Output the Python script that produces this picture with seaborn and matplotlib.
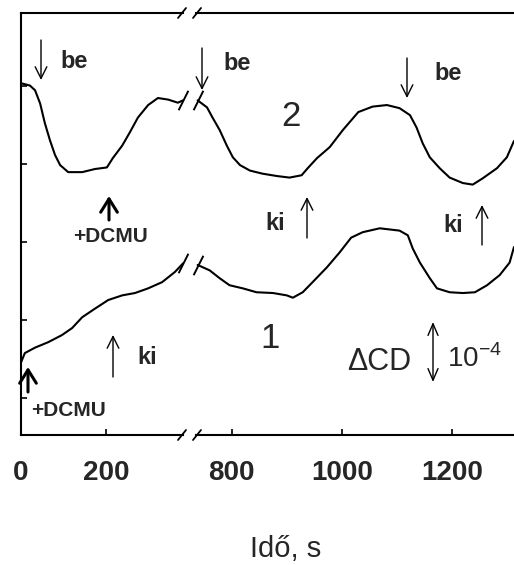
import matplotlib
matplotlib.use("Agg")
import matplotlib.pyplot as plt
import numpy as np
import pandas as pd
import seaborn as sns

# ---------------- data ----------------
# curve 2 (upper trace)
t2_left = [0, 21, 33, 45, 56, 68, 80, 92, 111, 144, 174, 202, 216, 238, 256, 275, 299, 322, 346, 369, 381]
v2_left = [4.04, 4.01, 3.95, 3.78, 3.53, 3.31, 3.12, 2.99, 2.90, 2.90, 2.94, 2.96, 3.08, 3.24, 3.41, 3.60, 3.76,
           3.85, 3.83, 3.79, 3.82]
t2_right = [738, 755, 765, 778, 791, 802, 815, 833, 856, 882, 905, 927, 938, 955, 978, 1002, 1030, 1056, 1082,
            1105, 1124, 1136, 1147, 1160, 1178, 1196, 1220, 1238, 1256, 1282, 1300, 1313]
v2_right = [3.82, 3.73, 3.60, 3.44, 3.24, 3.09, 2.99, 2.92, 2.88, 2.85, 2.83, 2.86, 2.95, 3.08, 3.22, 3.44, 3.67,
            3.74, 3.76, 3.72, 3.63, 3.47, 3.27, 3.09, 2.95, 2.83, 2.76, 2.74, 2.82, 2.95, 3.09, 3.30]
# curve 1 (lower trace)
t1_left = [0, 9, 33, 64, 96, 120, 144, 174, 205, 238, 268, 299, 332, 362, 381]
v1_left = [0.46, 0.58, 0.65, 0.72, 0.81, 0.90, 1.04, 1.15, 1.26, 1.32, 1.35, 1.41, 1.49, 1.62, 1.73]
t1_right = [738, 760, 778, 796, 820, 845, 875, 900, 911, 929, 947, 973, 996, 1017, 1038, 1069, 1105, 1120, 1129,
            1142, 1160, 1173, 1196, 1220, 1242, 1264, 1287, 1305, 1313]
v1_right = [1.71, 1.64, 1.54, 1.45, 1.41, 1.36, 1.35, 1.32, 1.29, 1.36, 1.49, 1.68, 1.87, 2.06, 2.13, 2.18, 2.15,
            2.09, 1.92, 1.74, 1.54, 1.41, 1.36, 1.35, 1.36, 1.45, 1.58, 1.74, 1.94]

left_ticks = [0, 200]
right_ticks = [800, 1000, 1200]
y_ticks = [0, 1, 2, 3, 4]
left_xlim = (0, 381)
right_xlim = (735, 1313)
ylim = (-0.47, 4.94)
xlabel = "Idő, s"

def frame(t, v, curve, part):
    return pd.DataFrame({"t": t, "v": v, "curve": curve, "part": part})

df = pd.concat([
    frame(t2_left, v2_left, "2", "left"), frame(t2_right, v2_right, "2", "right"),
    frame(t1_left, v1_left, "1", "left"), frame(t1_right, v1_right, "1", "right"),
])

# ---------------- style ----------------
sns.set_theme(style="ticks")
plt.rcParams["font.family"] = ["Liberation Sans", "DejaVu Sans"]
plt.rcParams["mathtext.fontset"] = "custom"
plt.rcParams["mathtext.rm"] = "Liberation Sans"
plt.rcParams["mathtext.bf"] = "Liberation Sans:bold"

W, H = 514, 565
fig = plt.figure(figsize=(W / 100, H / 100), dpi=100)

def P(x, y):
    return (x / W, 1 - y / H)

top_px, bot_px = 13, 435
axL = fig.add_axes([21 / W, 1 - bot_px / H, (183 - 21) / W, (bot_px - top_px) / H])
axR = fig.add_axes([196 / W, 1 - bot_px / H, (514 - 196) / W, (bot_px - top_px) / H])

for ax, part, xlim, ticks in [(axL, "left", left_xlim, left_ticks), (axR, "right", right_xlim, right_ticks)]:
    sub = df[df["part"] == part]
    sns.lineplot(data=sub, x="t", y="v", hue="curve", palette={"1": "black", "2": "black"},
                 legend=False, ax=ax, linewidth=1.5, estimator=None, sort=True)
    ax.set_xlim(*xlim)
    ax.set_ylim(*ylim)
    ax.set_xticks(ticks)
    ax.set_xticklabels([str(t) for t in ticks], fontsize=20, fontweight="bold")
    ax.set_xlabel("")
    ax.set_ylabel("")
    ax.tick_params(axis="both", direction="in", length=4, width=1.2, color="black", pad=18)
    for s in ax.spines.values():
        s.set_linewidth(1.5)
        s.set_color("black")
    ax.set_facecolor("white")

axL.set_yticks(y_ticks)
axL.set_yticklabels([])
axL.spines["right"].set_visible(False)
axR.spines["left"].set_visible(False)
axR.spines["right"].set_visible(False)
axR.tick_params(axis="y", left=False, labelleft=False)

# break marks on the spines
for xb in (182, 197):
    for yb in (top_px, bot_px):
        x0, y0 = P(xb - 4, yb + 5)
        x1, y1 = P(xb + 4, yb - 5)
        fig.add_artist(plt.Line2D([x0, x1], [y0, y1], color="black", lw=1.3))

# break marks at the curve ends
slash = [(-0.5, -1), (0.5, 1)]
for ax, tt, vv in [(axL, t2_left[-1], v2_left[-1]), (axL, t1_left[-1], v1_left[-1]),
                   (axR, t2_right[0], v2_right[0]), (axR, t1_right[0], v1_right[0])]:
    ax.plot([tt], [vv], marker=slash, ms=14, mew=1.4, color="black", clip_on=False)

# ---------------- annotations ----------------
def arrow(x, y_tail, y_head, lw=1.0, hl=0.7, hw=0.35):
    fig.add_artist(matplotlib.patches.FancyArrowPatch(
        P(x, y_tail), P(x, y_head), transform=fig.transFigure,
        arrowstyle=f"->,head_length={hl},head_width={hw}", lw=lw, color="black",
        mutation_scale=12, shrinkA=0, shrinkB=0))

def txt(x, y, s, size=17, weight="bold", ha="center"):
    fig.text(*P(x, y), s, fontsize=size, fontweight=weight, ha=ha, va="center")

# "be" (down arrows)
arrow(41, 40, 80); txt(74, 61, "be")
arrow(202, 48, 90); txt(237, 63, "be")
arrow(407, 58, 98); txt(448, 73, "be")
# "ki" (up arrows)
arrow(113, 377, 335); txt(147, 357, "ki")
arrow(307, 238, 197); txt(275, 224, "ki")
arrow(482, 245, 205); txt(453, 225, "ki")
# +DCMU (thick arrows)
arrow(109, 220, 196, lw=2.2, hl=0.8, hw=0.5); txt(111, 237, "+DCMU", size=15)
arrow(28, 392, 367, lw=2.2, hl=0.8, hw=0.5); txt(68, 410, "+DCMU", size=15)
# curve numbers
txt(291, 116, "2", size=25, weight="normal")
txt(270, 338, "1", size=25, weight="normal")
# scale bar
txt(379, 362, "ΔCD", size=22, weight="normal")
fig.add_artist(matplotlib.patches.FancyArrowPatch(
    P(433, 382), P(433, 322), transform=fig.transFigure,
    arrowstyle="<->,head_length=0.7,head_width=0.3", lw=1.0, color="black",
    mutation_scale=12, shrinkA=0, shrinkB=0))
txt(447, 359, r"10$^{\mathregular{-4}}$", size=20, weight="normal", ha="left")

fig.text(*P(286, 549), xlabel, fontsize=21, ha="center", va="center")

fig.savefig("out.png", dpi=100, facecolor="white")
